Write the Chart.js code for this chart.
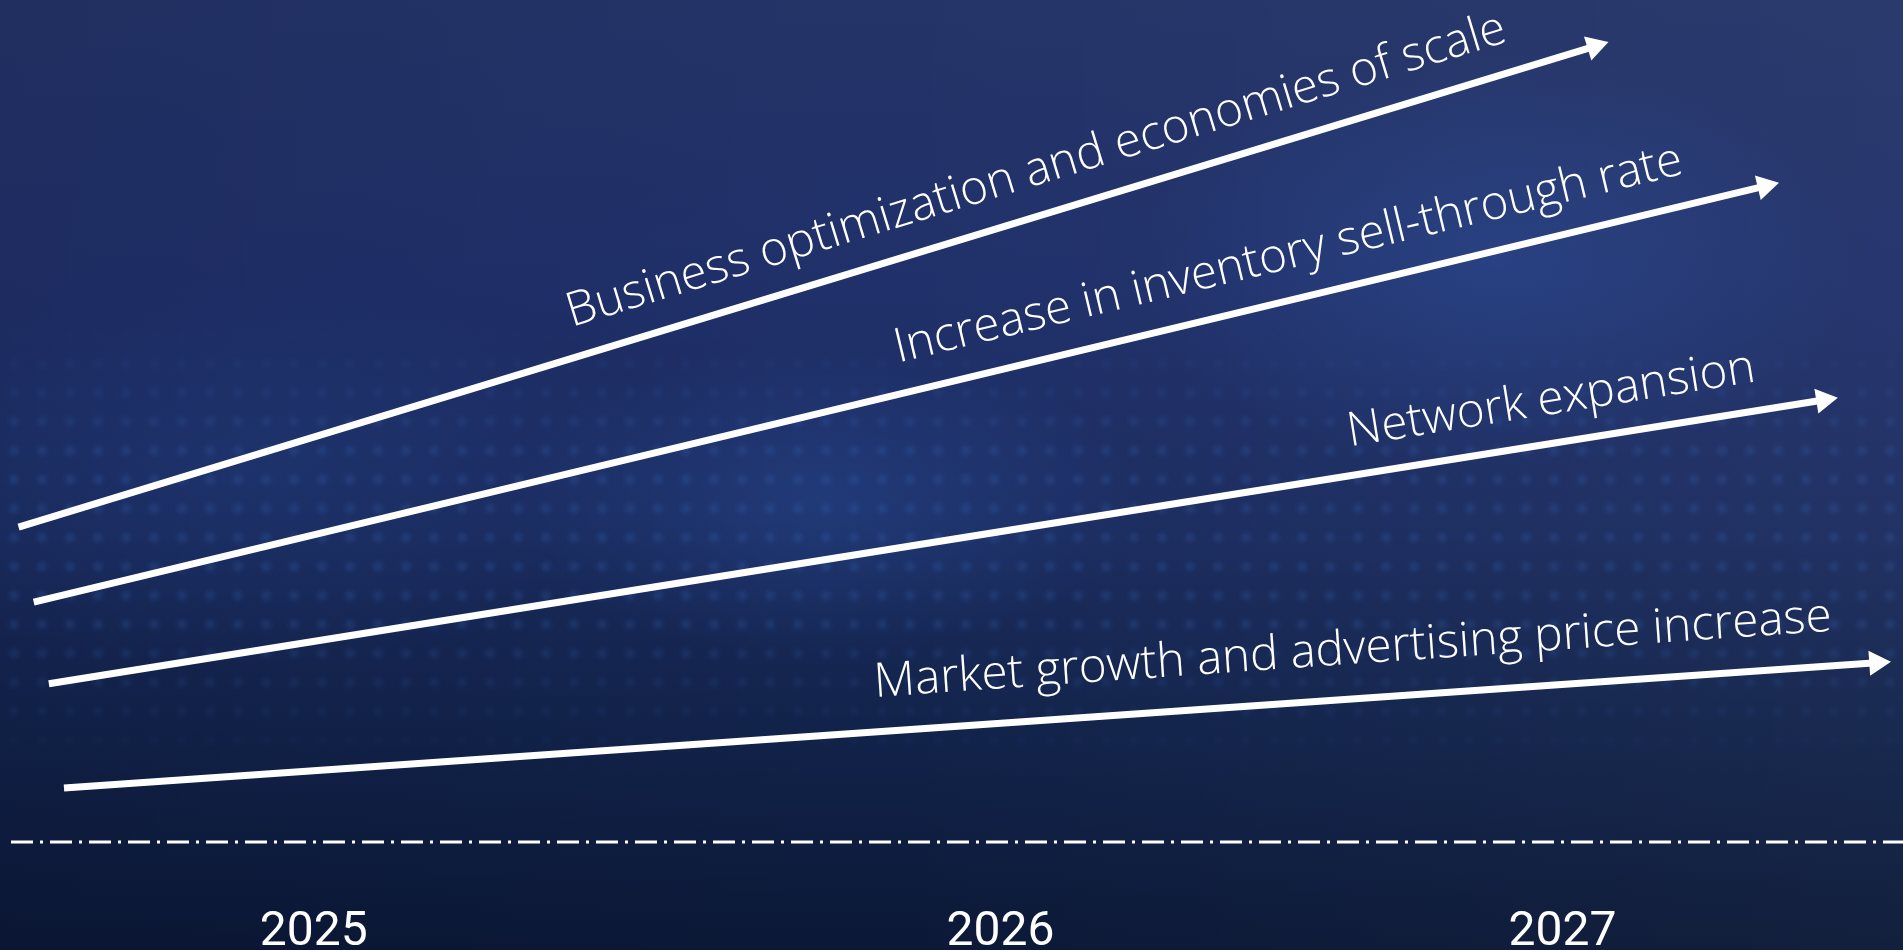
<!DOCTYPE html>
<html>
<head>
<meta charset="utf-8">
<title>Growth drivers 2025-2027</title>
<script src="https://cdn.jsdelivr.net/npm/chart.js@4.4.1/dist/chart.umd.min.js"></script>
<style>
    html, body {
        margin: 0;
        padding: 0;
        width: 1903px;
        height: 950px;
        overflow: hidden;
    }
    body {
        background:
            radial-gradient(ellipse 520px 300px at 1500px 260px, rgba(50, 95, 180, 0.30), transparent 70%),
            radial-gradient(ellipse 460px 220px at 820px 500px, rgba(45, 90, 175, 0.30), transparent 70%),
            radial-gradient(ellipse 600px 280px at 250px 470px, rgba(40, 80, 160, 0.22), transparent 70%),
            linear-gradient(90deg, rgba(0, 0, 20, 0.10), rgba(0, 0, 0, 0) 45%, rgba(255, 255, 255, 0.03)),
            linear-gradient(180deg, #243468 0%, #20306a 30%, #1b2c60 55%, #12234b 76%, #0b1836 100%);
    }
    #wrap {
        position: relative;
        width: 1903px;
        height: 950px;
    }
    #dots {
        position: absolute;
        left: 0;
        top: 320px;
        width: 1903px;
        height: 460px;
        background-image: radial-gradient(circle, rgba(70, 130, 220, 0.45) 0 3px, rgba(0, 0, 0, 0) 6px);
        background-size: 28px 29px;
        filter: blur(2.5px);
        opacity: 0.45;
        -webkit-mask-image: linear-gradient(180deg, transparent 0%, #000 30%, #000 65%, transparent 100%);
        mask-image: linear-gradient(180deg, transparent 0%, #000 30%, #000 65%, transparent 100%);
    }
    canvas {
        position: absolute;
        left: 0;
        top: 0;
    }
</style>
</head>
<body>
<div id="wrap">
    <div id="dots"></div>
    <canvas id="driversChart" width="1903" height="950"></canvas>
</div>
<script>
// Growth drivers - one arrow per driver (x = position on the timeline, y = relative level)
const driverNames = [
    'Business optimization and economies of scale',
    'Increase in inventory sell-through rate',
    'Network expansion',
    'Market growth and advertising price increase'
];
const startX = [0.4, 1.2, 2.0, 2.8];
const startY = [37.4, 28.5, 18.8, 6.4];
const endX = [83.7, 92.7, 95.8, 98.6];
const endY = [94.5, 77.9, 52.5, 21.3];

const yearLabels = ['2025', '2026', '2027'];
const yearTicks = [16.0, 52.3, 82.0];

// where each label ends along its arrow, and its gap above the arrow
const labelEnd = [0.951, 0.958, 0.965, 0.977];
const labelGap = [30, 31, 29, 35];

function arrowAngle(chart, i) {
    const sx = chart.scales.x, sy = chart.scales.y;
    const dx = sx.getPixelForValue(endX[i]) - sx.getPixelForValue(startX[i]);
    const dy = sy.getPixelForValue(endY[i]) - sy.getPixelForValue(startY[i]);
    return Math.atan2(dy, dx);
}

const arrowLabels = {
    id: 'arrowLabels',
    afterDatasetsDraw(chart) {
        const ctx = chart.ctx;
        ctx.save();
        ctx.fillStyle = '#ffffff';
        ctx.font = '300 47.5px "Open Sans"';
        ctx.textAlign = 'right';
        ctx.textBaseline = 'alphabetic';
        driverNames.forEach((name, i) => {
            const pts = chart.getDatasetMeta(i).data;
            const a = pts[0], b = pts[1];
            const t = labelEnd[i];
            const x = a.x + (b.x - a.x) * t;
            const y = a.y + (b.y - a.y) * t;
            ctx.save();
            ctx.translate(x, y);
            ctx.rotate(Math.atan2(b.y - a.y, b.x - a.x));
            ctx.fillText(name, 0, -labelGap[i]);
            ctx.restore();
        });
        ctx.restore();
    }
};

const datasets = driverNames.map((name, i) => ({
    label: name,
    data: [{ x: startX[i], y: startY[i] }, { x: endX[i], y: endY[i] }],
    borderColor: '#ffffff',
    borderWidth: 7,
    borderCapStyle: 'butt',
    pointStyle: 'triangle',
    pointRadius: ctx => ctx.dataIndex === 1 ? 14.5 : 0,
    pointHoverRadius: ctx => ctx.dataIndex === 1 ? 14.5 : 0,
    pointBackgroundColor: '#ffffff',
    pointBorderWidth: 0,
    pointRotation: ctx => arrowAngle(ctx.chart, ctx.datasetIndex) * 180 / Math.PI + 90,
    tension: 0,
    clip: false
}));

// dash-dot timeline under the arrows
datasets.push({
    label: 'timeline',
    data: [{ x: 0, y: 0 }, { x: 100, y: 0 }],
    borderColor: '#ffffff',
    borderWidth: 3,
    borderDash: [22, 7, 3, 7],
    borderCapStyle: 'butt',
    pointRadius: 0,
    pointHoverRadius: 0,
    clip: false
});

new Chart(document.getElementById('driversChart'), {
    type: 'line',
    data: { datasets: datasets },
    options: {
        responsive: false,
        animation: false,
        events: [],
        layout: {
            autoPadding: false,
            padding: { left: 11, right: 0, top: 0, bottom: 0 }
        },
        plugins: {
            legend: { display: false },
            tooltip: { enabled: false }
        },
        scales: {
            x: {
                type: 'linear',
                min: 0,
                max: 100,
                position: 'bottom',
                afterBuildTicks: axis => {
                    axis.ticks = yearTicks.map(v => ({ value: v }));
                },
                afterFit: axis => {
                    axis.height = 108;
                },
                ticks: {
                    callback: (value, index) => yearLabels[index],
                    color: '#ffffff',
                    font: { family: 'Roboto', size: 48 },
                    padding: 62,
                    maxRotation: 0,
                    autoSkip: false
                },
                grid: { display: false, drawTicks: false },
                border: { display: false }
            },
            y: {
                type: 'linear',
                min: 0,
                max: 100,
                display: false
            }
        }
    },
    plugins: [arrowLabels]
});
</script>
</body>
</html>
